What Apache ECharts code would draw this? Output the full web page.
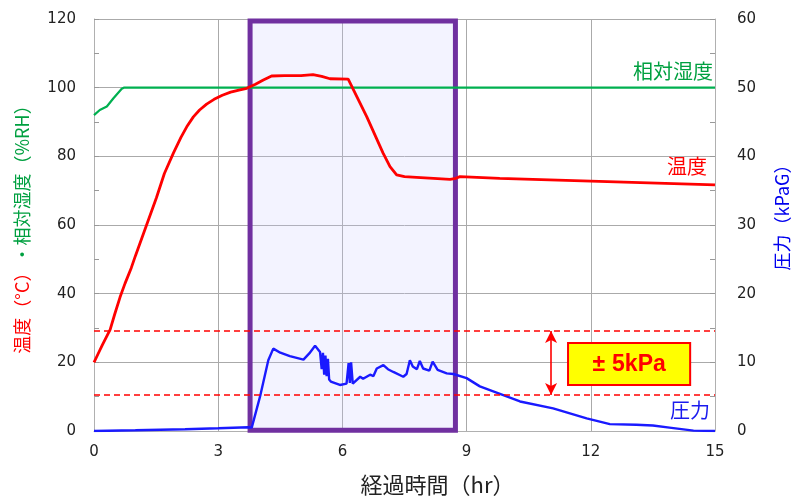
<!DOCTYPE html>
<html><head><meta charset="utf-8">
<script src="https://cdn.jsdelivr.net/npm/echarts@6/dist/echarts.min.js"></script>
<style>html,body{margin:0;padding:0;background:#fff}#c{width:799px;height:496px}</style>
</head><body><div id="c"></div>
<script>
// Data (time in hr)
const xTicks = [0, 3, 6, 9, 12, 15];
const temperature = [[0,20],[0.1,22.5],[0.2,25],[0.39,29.5],[0.5,34],[0.63,39],[0.75,43],[0.9,47.5],[1.0,51],[1.27,60],[1.51,68],[1.7,75],[1.92,81],[2.1,85.5],[2.24,88.6],[2.4,91.5],[2.55,93.5],[2.72,95.2],[2.9,96.6],[3.1,97.8],[3.3,98.7],[3.5,99.3],[3.69,99.8],[3.9,101],[4.09,102.2],[4.29,103.4],[4.6,103.5],[5.0,103.5],[5.29,103.8],[5.5,103.3],[5.7,102.6],[6.14,102.5],[6.18,102.2],[6.59,91.5],[6.98,81],[7.15,77],[7.31,74.6],[7.5,74.1],[7.79,73.9],[8.2,73.6],[8.6,73.3],[8.74,73.6],[8.84,74.1],[9.8,73.6],[12,72.8],[15,71.7]];
const humidity = [[0,92],[0.02,92.5],[0.14,93.5],[0.31,94.5],[0.47,96.9],[0.67,99.7],[0.72,100],[15,100]];
const pressure = [[0,0],[1,0.1],[2.2,0.25],[3,0.4],[3.73,0.55],[3.81,0.5],[4.01,5.0],[4.21,10.3],[4.33,12.0],[4.5,11.4],[4.73,10.9],[5.06,10.4],[5.2,11.3],[5.34,12.4],[5.46,11.5],[5.5,9.0],[5.53,11.4],[5.56,8.2],[5.59,11.0],[5.62,8.0],[5.65,10.5],[5.68,7.5],[5.72,7.2],[5.94,6.7],[6.1,6.9],[6.15,9.9],[6.18,7.0],[6.21,10.0],[6.25,6.9],[6.43,7.9],[6.5,7.6],[6.67,8.2],[6.75,8.0],[6.83,9.1],[6.99,9.6],[7.1,9.0],[7.23,8.6],[7.47,7.9],[7.55,8.3],[7.63,10.3],[7.7,9.4],[7.8,9.0],[7.87,10.2],[7.95,9.1],[8.1,8.8],[8.18,10.1],[8.3,8.9],[8.52,8.4],[8.68,8.3],[9.0,7.7],[9.32,6.5],[10.29,4.3],[11.09,3.3],[11.9,1.85],[12.46,1.0],[13.1,0.9],[13.5,0.8],[13.9,0.5],[14.48,0.05],[15,0]];
const bandLimits = [14.55, 5.25];      // kPaG, dashed red lines
const highlightRange = [3.77, 8.73];   // hr, purple box
const arrowX = 11.04;

const jp = '"Noto Sans CJK JP", sans-serif';
const num = '"DejaVu Sans", sans-serif';
const chart = echarts.init(document.getElementById('c'));
chart.setOption({
  animation: false,
  grid: {left: 94, right: 84, top: 19, bottom: 65, containLabel: false, outerBoundsMode: 'none'},
  xAxis: {
    type: 'value', min: 0, max: 15, interval: 3,
    name: '経過時間（hr）', nameLocation: 'middle', nameGap: 43,
    nameTextStyle: {fontFamily: jp, fontSize: 22, color: '#222', padding: [0,0,0,66]},
    axisLine: {lineStyle: {color: '#b0b0b0'}},
    axisTick: {show: false},
    axisLabel: {fontFamily: num, fontSize: 15, color: '#222', margin: 14},
    splitLine: {lineStyle: {color: '#aaaaaa'}}
  },
  yAxis: [{
    type: 'value', min: 0, max: 120, interval: 20,
    name: '{r|温度（°C）}{g|・相対湿度（%RH）}', nameLocation: 'middle', nameGap: 63,
    nameTextStyle: {rich: {r: {color: '#ff0000', fontFamily: jp, fontSize: 18}, g: {color: '#00a040', fontFamily: jp, fontSize: 18}}},
    axisLine: {show: true, lineStyle: {color: '#b0b0b0'}},
    axisTick: {show: true, inside: true, length: 5, lineStyle: {color: '#999'}},
    minorTick: {show: true, splitNumber: 2, length: 5, lineStyle: {color: '#999'}},
    axisLabel: {fontFamily: num, fontSize: 15, color: '#222', margin: 18},
    splitLine: {lineStyle: {color: '#aaaaaa'}}
  }, {
    type: 'value', min: 0, max: 60, interval: 10,
    name: '圧力（kPaG）', nameLocation: 'middle', nameGap: 58,
    nameTextStyle: {color: '#0000ee', fontFamily: jp, fontSize: 18, padding: [0,0,0,24]},
    axisLine: {show: true, lineStyle: {color: '#b0b0b0'}},
    axisTick: {show: true, inside: true, length: 5, lineStyle: {color: '#999'}},
    minorTick: {show: true, splitNumber: 2, length: 5, lineStyle: {color: '#999'}},
    axisLabel: {fontFamily: num, fontSize: 15, color: '#222', margin: 22},
    splitLine: {show: false}
  }],
  series: [
    {type: 'line', name: '相対湿度', data: humidity, yAxisIndex: 0, showSymbol: false, symbol: 'none',
     lineStyle: {color: '#00b050', width: 2.2}, z: 2},
    {type: 'line', name: '温度', data: temperature, yAxisIndex: 0, showSymbol: false, symbol: 'none',
     lineStyle: {color: '#ff0000', width: 2.8}, z: 2},
    {type: 'line', name: '圧力', data: pressure, yAxisIndex: 1, showSymbol: false, symbol: 'none',
     lineStyle: {color: '#1a1aff', width: 2.4}, z: 2,
     markLine: {silent: true, symbol: 'none', label: {show: false},
       lineStyle: {color: '#ff0000', type: [6, 4], width: 1.6},
       data: [{yAxis: bandLimits[0]}, {yAxis: bandLimits[1]},
              [{coord: [arrowX, bandLimits[0]], symbol: 'arrow', symbolSize: [9, 12], lineStyle: {type: 'solid', width: 1.6}},
               {coord: [arrowX, bandLimits[1]], symbol: 'arrow', symbolSize: [9, 12]}]]}},
    {type: 'line', data: [], yAxisIndex: 0, z: 5,
     markArea: {silent: true, itemStyle: {color: 'rgba(200,200,255,0.22)', borderColor: '#7030a0', borderWidth: 5},
       data: [[{coord: [highlightRange[0], 119.4]}, {coord: [highlightRange[1], 0.2]}]]}}
  ]
});

function px(x, y, idx) { return chart.convertToPixel({xAxisIndex: 0, yAxisIndex: idx}, [x, y]); }
const b1 = px(11.45, 12.8, 1), b2 = px(14.4, 6.7, 1);
const lh = px(15, 100, 0), lt = px(15, 72.5, 0), lp = px(15, 3, 1);
chart.setOption({graphic: [
  {type: 'rect', shape: {x: b1[0], y: b1[1], width: b2[0]-b1[0], height: b2[1]-b1[1]},
   style: {fill: '#ffff00', stroke: '#ff0000', lineWidth: 2}, z: 10},
  {type: 'text', x: (b1[0]+b2[0])/2, y: (b1[1]+b2[1])/2 + 1,
   style: {text: '{a|±}{b|5kPa}', align: 'center', verticalAlign: 'middle',
     rich: {a: {fill: '#ff0000', font: 'bold 23px "Liberation Sans", sans-serif', padding: [0, 7, 0, 0]},
            b: {fill: '#ff0000', font: 'bold 23px "Liberation Sans", sans-serif'}}}, z: 11},
  {type: 'text', x: lh[0]-2, y: lh[1]-6, style: {text: '相対湿度', fill: '#00a040', font: '20px ' + jp, align: 'right', verticalAlign: 'bottom'}, z: 11},
  {type: 'text', x: lt[0]-8, y: lt[1]-6, style: {text: '温度', fill: '#ff0000', font: '20px ' + jp, align: 'right', verticalAlign: 'bottom'}, z: 11},
  {type: 'text', x: lp[0]-5, y: lp[1]+10, style: {text: '圧力', fill: '#1a1aee', font: '20px ' + jp, align: 'right', verticalAlign: 'bottom'}, z: 11}
]});
</script></body></html>
